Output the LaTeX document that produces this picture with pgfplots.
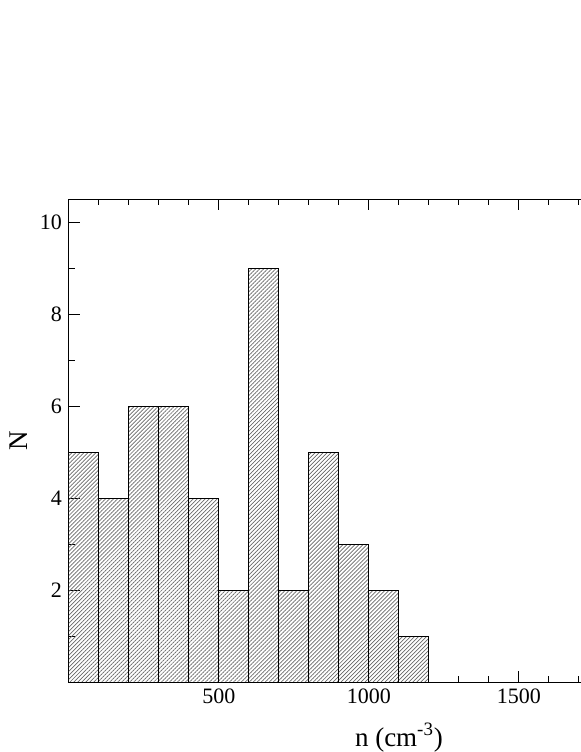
\documentclass[border=0pt]{standalone}
\usepackage{fontspec}
\setmainfont{Liberation Serif}
\usepackage{pgfplots}
\pgfplotsset{compat=1.18}
\usetikzlibrary{patterns.meta}

% 1 px of the reference = 0.5pt
\begin{document}
\begin{tikzpicture}
\begin{axis}[
    ybar interval,
    at={(0,0)}, anchor=south west,
    scale only axis,
    width=330pt, height=241.5pt,
    xmin=0, xmax=2200,
    ymin=0, ymax=10.5,
    x tick label as interval=false,
    xmajorgrids=false, ymajorgrids=false,
    xtick={500,1000,1500},
    xticklabel={\pgfmathprintnumber{\tick}},
    ytick={2,4,6,8,10},
    minor xtick={100,200,...,2100},
    minor ytick={1,3,5,7,9},
    tick align=inside,
    major tick length=5.5pt,
    minor tick length=3pt,
    tick style={black, line width=0.5pt},
    axis line style={line width=0.5pt},
    /pgf/number format/assume math mode=true,
    /pgf/number format/1000 sep={},
    ticklabel style={font=\fontsize{11}{13}\selectfont},
    xticklabel style={anchor=north, yshift=0pt},
    label style={font=\fontsize{13.5}{15}\selectfont},
    xlabel={n (cm\textsuperscript{-3})},
    xlabel style={at={(axis description cs:0.5,-0.133)}, anchor=base},
    ylabel={N},
    ylabel style={at={(axis description cs:-0.0758,0.5)}, anchor=center},
]
\addplot[draw=black, line width=0.5pt,
    pattern={Lines[angle=45, distance=1.41pt, line width=0.35pt]},
    pattern color=black!60]
    coordinates {
    (0,5) (100,4) (200,6) (300,6) (400,4) (500,2)
    (600,9) (700,2) (800,5) (900,3) (1000,2) (1100,1) (1200,1)
};
\end{axis}
\pgfresetboundingbox
\path[use as bounding box] (-34.5pt,-35pt) rectangle (256pt,341pt);
\end{tikzpicture}
\end{document}
